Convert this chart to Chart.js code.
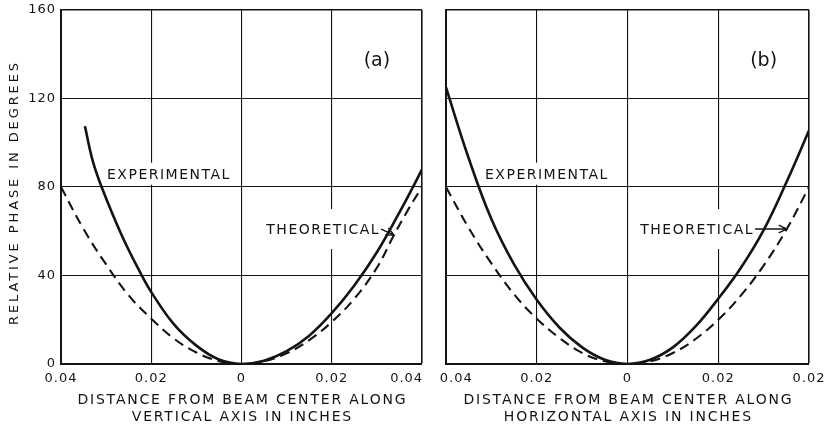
<!DOCTYPE html>
<html>
<head>
<meta charset="utf-8">
<script src="https://cdn.jsdelivr.net/npm/chart.js@4.4.0/dist/chart.umd.min.js"></script>
<style>
  html, body { margin: 0; padding: 0; background: #fff; }
  #wrap { position: relative; width: 829px; height: 426px; overflow: hidden; }
  canvas { position: absolute; top: 0; }
  #plotA { left: 0; }
  #plotB { left: 434px; }
</style>
</head>
<body>
<div id="wrap">
  <canvas id="plotA" width="434" height="426"></canvas>
  <canvas id="plotB" width="395" height="426"></canvas>
</div>
<script>
// (a) fase a lo largo del eje vertical
const vertExpX = [-0.0347, -0.033, -0.031, -0.0265, -0.0221, -0.02, -0.015, -0.01, -0.005, 0, 0.005, 0.01, 0.015, 0.02, 0.025, 0.03, 0.035, 0.038, 0.04]
const vertExpY = [107.5, 92, 80, 58, 40, 32.5, 18, 8.3, 2, 0, 1.5, 5.8, 12.8, 23, 35.5, 50.5, 68.5, 80, 88]
const vertTheoX = [-0.04, -0.035, -0.03, -0.025, -0.02, -0.015, -0.01, -0.005, 0, 0.005, 0.01, 0.015, 0.02, 0.025, 0.03, 0.0338, 0.037, 0.04]
const vertTheoY = [80, 61, 45, 31, 20.5, 11.5, 5.2, 1.3, 0, 1.2, 4.8, 10.8, 19, 29.5, 43.5, 58.3, 70, 80]

// (b) fase a lo largo del eje horizontal
const horizExpX = [-0.04, -0.035, -0.03, -0.025, -0.02, -0.015, -0.01, -0.005, 0, 0.005, 0.01, 0.015, 0.02, 0.025, 0.03, 0.035, 0.04]
const horizExpY = [125, 93, 65.5, 45, 29, 16.5, 7.5, 1.9, 0, 1.9, 7.5, 17, 29.5, 43.5, 60.5, 82, 105.5]
const horizTheoX = [-0.04, -0.035, -0.03, -0.025, -0.02, -0.015, -0.01, -0.005, 0, 0.005, 0.01, 0.015, 0.02, 0.025, 0.03, 0.0351, 0.04]
const horizTheoY = [80, 61.5, 45.5, 31.5, 20.5, 11.8, 5, 1.2, 0, 1.2, 5, 11.3, 20, 31, 44.5, 61, 80]

const xTickLabelsA = ['0.04', '0.02', '0', '0.02', '0.04']
const xTickLabelsB = ['0.04', '0.02', '0', '0.02', '0.02']

const yTitle = 'RELATIVE PHASE IN DEGREES'
const xTitleA = ['DISTANCE FROM BEAM CENTER ALONG', 'VERTICAL AXIS IN INCHES']
const xTitleB = ['DISTANCE FROM BEAM CENTER ALONG', 'HORIZONTAL AXIS IN INCHES']

const FONT = '"DejaVu Sans", sans-serif'
const INK = '#141414'

let toPoints = (xs, ys) => xs.map((x, i) => ({ x: x, y: ys[i] }))

let setFont = (ctx, size, spacing) => {
  ctx.font = `${size}px ${FONT}`
  ctx.letterSpacing = spacing + 'px'
}

//Texto con espaciado; letterSpacing deja un hueco tras la ultima letra
let spacedText = (ctx, text, x, y, size, spacing, align) => {
  setFont(ctx, size, spacing)
  ctx.textAlign = align
  ctx.textBaseline = 'alphabetic'
  let dx = align === 'center' ? spacing / 2 : 0
  ctx.fillText(text, x + dx, y)
}

//Rotulos, flechas y titulos de cada panel
const notas = {
  id: 'notas',
  beforeDraw(chart) {
    chart.ctx.letterSpacing = '1px'
  },
  beforeDatasetsDraw(chart, args, opts) {
    let ctx = chart.ctx
    let { x, y } = chart.scales
    ctx.save()
    ctx.fillStyle = '#fff'
    opts.labels.forEach(lab => {
      setFont(ctx, 14, 1.5)
      let w = ctx.measureText(lab.text).width
      let left = x.getPixelForValue(lab.x)
      let cy = y.getPixelForValue(lab.y)
      let right = left + w
      if (lab.tip != null) right = x.getPixelForValue(opts.theoX[lab.tip]) + 2
      ctx.fillRect(left - 5, cy - lab.pad, right - left + 10, lab.pad * 2)
    })
    ctx.restore()
  },
  afterDraw(chart, args, opts) {
    let ctx = chart.ctx
    let { x, y } = chart.scales
    let area = chart.chartArea
    ctx.save()
    ctx.fillStyle = INK
    ctx.strokeStyle = INK

    opts.labels.forEach(lab => {
      let left = x.getPixelForValue(lab.x)
      let cy = y.getPixelForValue(lab.y)
      spacedText(ctx, lab.text, left, cy + 5, 14, 1.5, 'left')
      if (lab.tip != null) {
        setFont(ctx, 14, 1.5)
        let sx = left + ctx.measureText(lab.text).width + 1
        let tx = x.getPixelForValue(opts.theoX[lab.tip])
        let ty = y.getPixelForValue(opts.theoY[lab.tip])
        let ang = Math.atan2(ty - cy, tx - sx)
        ctx.lineWidth = 1.4
        ctx.beginPath()
        ctx.moveTo(sx, cy)
        ctx.lineTo(tx, ty)
        ctx.moveTo(tx - 9 * Math.cos(ang - 0.45), ty - 9 * Math.sin(ang - 0.45))
        ctx.lineTo(tx, ty)
        ctx.lineTo(tx - 9 * Math.cos(ang + 0.45), ty - 9 * Math.sin(ang + 0.45))
        ctx.stroke()
      }
    })

    //(a) / (b)
    spacedText(ctx, opts.panel, x.getPixelForValue(0.03), y.getPixelForValue(134.5), 19, 0, 'center')

    //Titulo del eje x en dos lineas
    let cx = (area.left + area.right) / 2
    spacedText(ctx, opts.xTitle[0], cx, area.bottom + 40, 14, 1.8, 'center')
    spacedText(ctx, opts.xTitle[1], cx, area.bottom + 57, 14, 1.8, 'center')

    //Titulo del eje y (solo panel a)
    if (opts.yTitle) {
      ctx.translate(area.left - 43.5, (area.top + area.bottom) / 2 + 7)
      ctx.rotate(-Math.PI / 2)
      spacedText(ctx, opts.yTitle, 0, 0, 13, 2.9, 'center')
    }
    ctx.restore()
  }
}

let crearPanel = (canvasId, expX, expY, theoX, theoY, tickLabels, cfg) => {
  let last = tickLabels.length - 1
  let config = {
    type: 'line',
    data: {
      datasets: [
        {
          label: 'Experimental',
          data: toPoints(expX, expY),
          borderColor: INK,
          borderWidth: 2.6,
          pointRadius: 0,
          tension: 0.4,
          fill: false
        },
        {
          label: 'Theoretical',
          data: toPoints(theoX, theoY),
          borderColor: INK,
          borderWidth: 2.1,
          borderDash: [10, 6],
          pointRadius: 0,
          tension: 0.4,
          fill: false
        }
      ]
    },
    options: {
      responsive: false,
      animation: false,
      devicePixelRatio: 1,
      layout: { padding: { left: 0, right: cfg.padRight, top: 10, bottom: 0 } },
      scales: {
        x: {
          type: 'linear',
          min: -0.04,
          max: 0.04,
          ticks: {
            stepSize: 0.02,
            autoSkip: false,
            maxRotation: 0,
            padding: 7,
            color: INK,
            font: { family: FONT, size: 13 },
            callback: (v) => {
              let i = Math.round((v + 0.04) / 0.02)
              let txt = tickLabels[i]
              // los rotulos del borde entre paneles se apartan del vecino
              if (i === 0 && cfg.padFirst) txt = '\u00a0'.repeat(cfg.padFirst) + txt
              if (i === last && cfg.padLast) txt = txt + '\u00a0'.repeat(cfg.padLast)
              return txt
            }
          },
          grid: {
            color: INK,
            drawTicks: false,
            lineWidth: (c) => c.index === last ? 1.6 : 1.1
          },
          border: { color: INK, width: 2 },
          afterFit: (s) => { s.height = 62; s.paddingLeft = 0; s.paddingRight = 0 }
        },
        y: {
          min: 0,
          max: 160,
          ticks: {
            stepSize: 40,
            display: cfg.showY,
            padding: 5,
            color: INK,
            font: { family: FONT, size: 13 }
          },
          grid: {
            color: INK,
            drawTicks: false,
            lineWidth: (c) => c.index === 4 ? 1.6 : 1.1
          },
          border: { color: INK, width: 2 },
          afterFit: (s) => { s.width = cfg.yWidth; s.paddingTop = 0; s.paddingBottom = 0 }
        }
      },
      plugins: {
        legend: { display: false },
        tooltip: { enabled: false },
        notas: {
          panel: cfg.panel,
          labels: cfg.labels,
          theoX: theoX,
          theoY: theoY,
          xTitle: cfg.xTitle,
          yTitle: cfg.yTitle
        }
      }
    },
    plugins: [notas]
  }
  return new Chart(document.getElementById(canvasId), config)
}

crearPanel('plotA', vertExpX, vertExpY, vertTheoX, vertTheoY, xTickLabelsA, {
  padRight: 12,
  yWidth: 61,
  showY: true,
  padLast: 6,
  panel: '(a)',
  xTitle: xTitleA,
  yTitle: yTitle,
  labels: [
    { text: 'EXPERIMENTAL', x: -0.0298, y: 86, pad: 11 },
    { text: 'THEORETICAL', x: 0.0055, y: 61, pad: 20, tip: vertTheoX.indexOf(0.0338) }
  ]
})

crearPanel('plotB', horizExpX, horizExpY, horizTheoX, horizTheoY, xTickLabelsB, {
  padRight: 20,
  yWidth: 12,
  showY: false,
  padFirst: 4,
  panel: '(b)',
  xTitle: xTitleB,
  yTitle: null,
  labels: [
    { text: 'EXPERIMENTAL', x: -0.0314, y: 86, pad: 11 },
    { text: 'THEORETICAL', x: 0.0028, y: 61, pad: 20, tip: horizTheoX.indexOf(0.0351) }
  ]
})
</script>
</body>
</html>
